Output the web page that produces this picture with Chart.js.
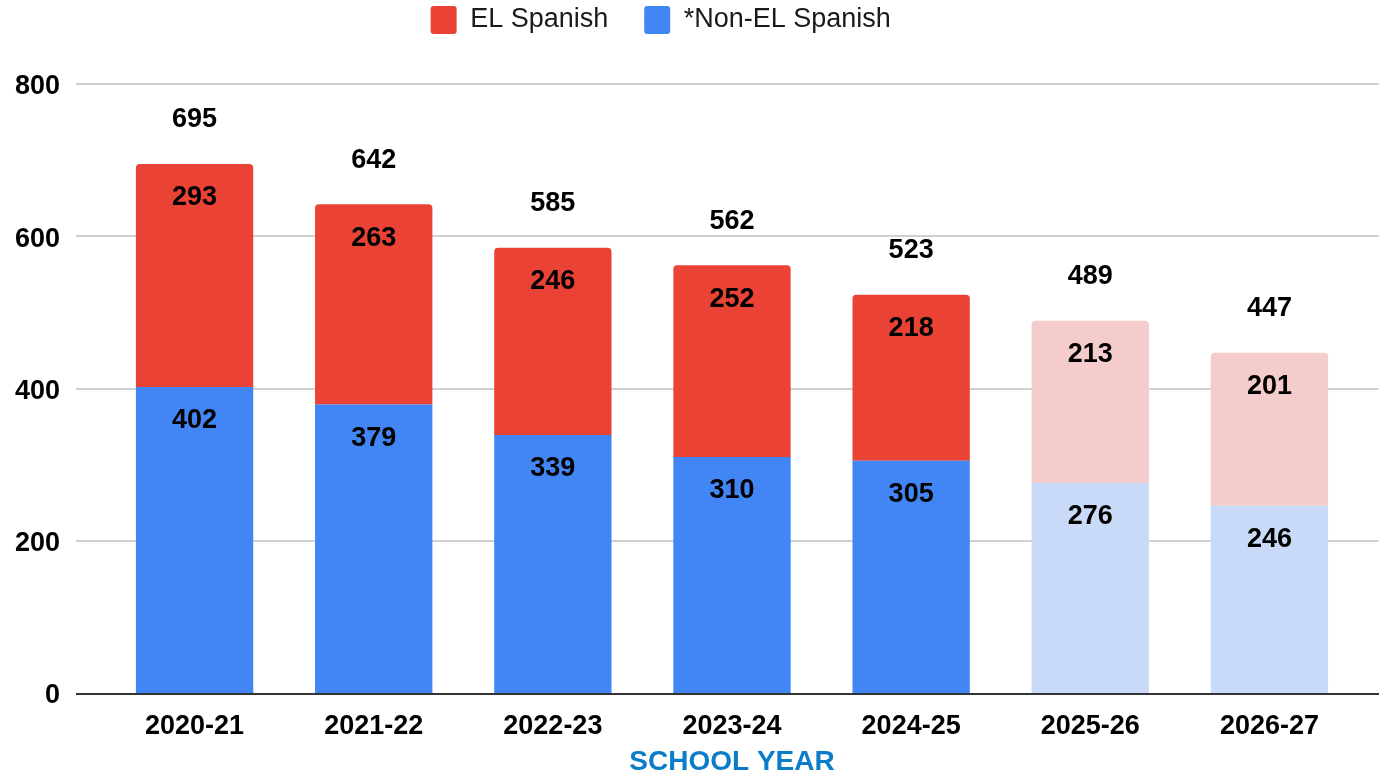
<!DOCTYPE html>
<html>
<head>
<meta charset="utf-8">
<script src="https://cdn.jsdelivr.net/npm/chart.js@4"></script>
<style>
  body { margin: 0; background: #fff; }
  #wrap { width: 1379px; height: 773px; }
</style>
</head>
<body>
<div id="wrap"><canvas id="el-chart"></canvas></div>
<script>
// datos
const years = ['2020-21', '2021-22', '2022-23', '2023-24', '2024-25', '2025-26', '2026-27'];
const nonElSpanish = [402, 379, 339, 310, 305, 276, 246];
const elSpanish = [293, 263, 246, 252, 218, 213, 201];
const projectedYears = ['2025-26', '2026-27'];
const yTicks = [0, 200, 400, 600, 800];

const FONT = '"Liberation Sans", Arial, sans-serif';
const NBSP = '\u00a0';

// colores: los anos proyectados van mas claros
const isProjected = i => projectedYears.includes(years[i]);
const blueColor = ctx => (ctx.dataIndex !== undefined && isProjected(ctx.dataIndex)) ? '#c9daf8' : '#4285f4';
const redColor = ctx => (ctx.dataIndex !== undefined && isProjected(ctx.dataIndex)) ? '#f4cccc' : '#ea4335';

// lineas de la cuadricula de lado a lado (como en el original)
const fullWidthGrid = {
  id: 'fullWidthGrid',
  beforeDatasetsDraw(chart) {
    const { ctx, scales: { y } } = chart;
    ctx.save();
    ctx.strokeStyle = '#d0d0d0';
    ctx.lineWidth = 2;
    yTicks.forEach(v => {
      if (v === 0) return;
      const py = Math.round(y.getPixelForValue(v));
      ctx.beginPath();
      ctx.moveTo(76, py);
      ctx.lineTo(chart.width, py);
      ctx.stroke();
    });
    ctx.restore();
  },
  afterDatasetsDraw(chart) {
    const { ctx, scales: { y } } = chart;
    const py = Math.round(y.getPixelForValue(0)) + 1;
    ctx.save();
    ctx.strokeStyle = '#333';
    ctx.lineWidth = 2;
    ctx.beginPath();
    ctx.moveTo(76, py);
    ctx.lineTo(chart.width, py);
    ctx.stroke();
    ctx.restore();
  }
};

// etiquetas de valores y totales
const barLabels = {
  id: 'barLabels',
  afterDatasetsDraw(chart) {
    const { ctx } = chart;
    ctx.save();
    ctx.font = 'bold 27px ' + FONT;
    ctx.fillStyle = '#000';
    ctx.textAlign = 'center';
    ctx.textBaseline = 'middle';
    chart.data.datasets.forEach((ds, di) => {
      chart.getDatasetMeta(di).data.forEach((bar, i) => {
        ctx.fillText(ds.data[i], bar.x, bar.y + 34);
      });
    });
    const topBars = chart.getDatasetMeta(1).data;
    topBars.forEach((bar, i) => {
      ctx.fillText(nonElSpanish[i] + elSpanish[i], bar.x, bar.y - 44);
    });
    ctx.restore();
  }
};

// alto fijo para la leyenda
const legendHeight = {
  id: 'legendHeight',
  beforeInit(chart) {
    const legend = chart.legend;
    if (!legend) return;
    const fit = legend.fit;
    legend.fit = function () {
      fit.call(this);
      this.height = 84;
    };
  }
};

const chartConfig = {
  type: 'bar',
  data: {
    labels: years,
    datasets: [
      {
        label: '*Non-EL Spanish',
        data: nonElSpanish,
        backgroundColor: blueColor,
        borderRadius: 0,
        borderSkipped: false
      },
      {
        label: 'EL Spanish',
        data: elSpanish,
        backgroundColor: redColor,
        borderRadius: { topLeft: 4, topRight: 4, bottomLeft: 0, bottomRight: 0 },
        borderSkipped: false
      }
    ]
  },
  options: {
    responsive: true,
    maintainAspectRatio: false,
    animation: false,
    layout: { padding: { left: 0, right: 20, top: 0, bottom: 0 } },
    datasets: {
      bar: { categoryPercentage: 1, barPercentage: 0.655 }
    },
    plugins: {
      tooltip: { enabled: false },
      legend: {
        position: 'top',
        reverse: true,
        labels: {
          color: '#1a1a1a',
          font: { family: FONT, size: 27 },
          boxWidth: 26,
          boxHeight: 28,
          padding: 6,
          useBorderRadius: true,
          borderRadius: 3,
          generateLabels(chart) {
            return chart.data.datasets.map((ds, i) => ({
              // espacios para separar y centrar como en el original
              text: ds.label + NBSP.repeat(i === 1 ? 4 : 5),
              fillStyle: i === 0 ? '#4285f4' : '#ea4335',
              strokeStyle: 'rgba(0,0,0,0)',
              lineWidth: 0,
              fontColor: '#1a1a1a',
              hidden: false,
              datasetIndex: i,
              borderRadius: 3
            }));
          }
        }
      }
    },
    scales: {
      x: {
        stacked: true,
        grid: { display: false, drawTicks: false },
        border: { display: false },
        ticks: {
          color: '#000',
          padding: 17,
          font: { family: FONT, size: 27, weight: 'bold' }
        },
        title: {
          display: true,
          text: 'SCHOOL YEAR',
          color: '#0b7dc8',
          padding: { top: 0, bottom: -6 },
          font: { family: FONT, size: 28, weight: 'bold' }
        },
        afterFit(scale) { scale.height = 80; }
      },
      y: {
        stacked: true,
        min: 0,
        max: 800,
        grid: { display: false, drawTicks: false },
        border: { display: false },
        afterBuildTicks(scale) { scale.ticks = yTicks.map(v => ({ value: v })); },
        ticks: {
          color: '#000',
          padding: 45,
          labelOffset: 3,
          font: { family: FONT, size: 27, weight: 'bold' }
        },
        afterFit(scale) { scale.width = 105; }
      }
    }
  },
  plugins: [fullWidthGrid, barLabels, legendHeight]
};

const elChart = new Chart('el-chart', chartConfig);
</script>
</body>
</html>
